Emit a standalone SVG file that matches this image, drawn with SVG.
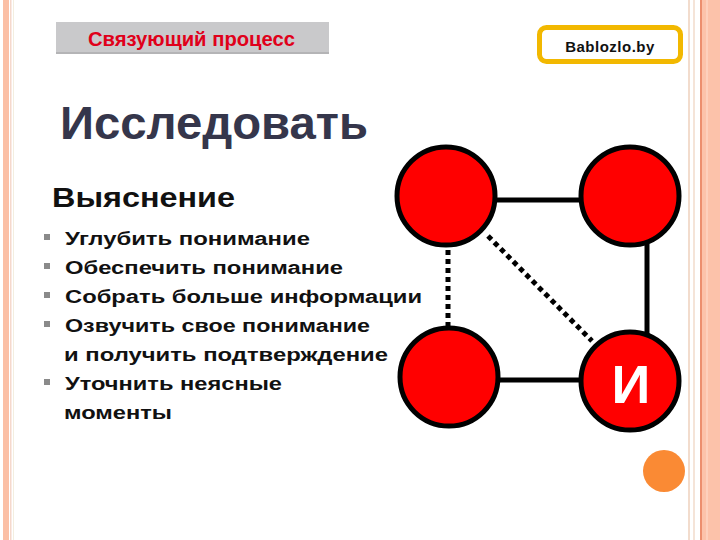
<svg xmlns="http://www.w3.org/2000/svg" width="720" height="540" viewBox="0 0 720 540">
<style>
.item{font-family:"Liberation Sans",Arial,sans-serif;font-weight:bold;font-size:18px;fill:#111}
.bul{fill:#8a8a8a}
.node{fill:#ff0000;stroke:#000;stroke-width:5}
.solid{stroke:#000;stroke-width:5;fill:none}
.dot{stroke:#000;stroke-width:5;fill:none;stroke-dasharray:5 4}
</style>
<rect x="0" y="0" width="720" height="540" fill="#fff"/>
<!-- borders -->
<rect x="3" y="0" width="6" height="540" fill="#fbbfa5"/>
<rect x="10" y="0" width="1.5" height="540" fill="#f5d8cc"/>
<rect x="13" y="0" width="1" height="540" fill="#f3eee0"/>
<rect x="688" y="0" width="2" height="540" fill="#f2dccd"/>
<rect x="693" y="0" width="2" height="540" fill="#f5e4d8"/>
<rect x="700" y="0" width="2" height="540" fill="#ec8e6e"/>
<rect x="702" y="0" width="18" height="540" fill="#fcc2aa"/>
<rect x="706" y="0" width="2" height="540" fill="#fdd0bd"/>
<!-- header -->
<g id="header">
<rect x="56" y="22" width="273" height="32" fill="#c9c9cb"/>
<rect x="56" y="52" width="273" height="2" fill="#b4b4b6"/>
<text x="88" y="46" font-family="Liberation Sans,Arial,sans-serif" font-weight="bold" font-size="20" fill="#e0001a" textLength="207" lengthAdjust="spacingAndGlyphs">Связующий процесс</text>
</g>
<g id="badge">
<rect x="539.5" y="27.5" width="141" height="34" rx="7" fill="#fff" stroke="#f2b800" stroke-width="5"/>
<text x="610" y="52" text-anchor="middle" font-family="Liberation Sans,Arial,sans-serif" font-weight="bold" font-size="15" letter-spacing="0.5" fill="#111">Bablozlo.by</text>
</g>
<text x="60" y="139" font-family="Liberation Sans,Arial,sans-serif" font-weight="bold" font-size="47" fill="#35364b" textLength="308" lengthAdjust="spacingAndGlyphs">Исследовать</text>
<text x="52" y="207" font-family="Liberation Sans,Arial,sans-serif" font-weight="bold" font-size="27" fill="#111" textLength="183" lengthAdjust="spacingAndGlyphs">Выяснение</text>
<g id="list">
<rect class="bul" x="44" y="234" width="6" height="6"/>
<text class="item" x="65" y="245" textLength="245" lengthAdjust="spacingAndGlyphs">Углубить понимание</text>
<rect class="bul" x="44" y="263" width="6" height="6"/>
<text class="item" x="65" y="274" textLength="278" lengthAdjust="spacingAndGlyphs">Обеспечить понимание</text>
<rect class="bul" x="44" y="292" width="6" height="6"/>
<text class="item" x="65" y="303" textLength="357" lengthAdjust="spacingAndGlyphs">Собрать больше информации</text>
<rect class="bul" x="44" y="321" width="6" height="6"/>
<text class="item" x="65" y="332" textLength="305" lengthAdjust="spacingAndGlyphs">Озвучить свое понимание</text>
<text class="item" x="64" y="361" textLength="324" lengthAdjust="spacingAndGlyphs">и получить подтверждение</text>
<rect class="bul" x="44" y="379" width="6" height="6"/>
<text class="item" x="65" y="390" textLength="217" lengthAdjust="spacingAndGlyphs">Уточнить неясные</text>
<text class="item" x="64" y="419" textLength="108" lengthAdjust="spacingAndGlyphs">моменты</text>
</g>
<g id="connectors">
<line class="solid" x1="496" y1="200" x2="581" y2="200"/>
<line class="solid" x1="647" y1="244" x2="647" y2="334"/>
<line class="solid" x1="498" y1="380" x2="581" y2="380"/>
<line class="dot" x1="448" y1="250" x2="448" y2="327"/>
<line class="dot" x1="488" y1="236" x2="592" y2="341"/>
</g>
<g id="n1"><circle class="node" cx="446" cy="196" r="49"/></g>
<g id="n2"><circle class="node" cx="630" cy="196" r="49"/></g>
<g id="n3"><circle class="node" cx="449" cy="377" r="49"/></g>
<g id="n4"><circle class="node" cx="630" cy="381" r="49"/>
<text x="631" y="403" text-anchor="middle" font-family="Liberation Sans,Arial,sans-serif" font-weight="bold" font-size="54" fill="#fff">И</text></g>
<circle cx="664" cy="471" r="21" fill="#fa8a34"/>
</svg>
